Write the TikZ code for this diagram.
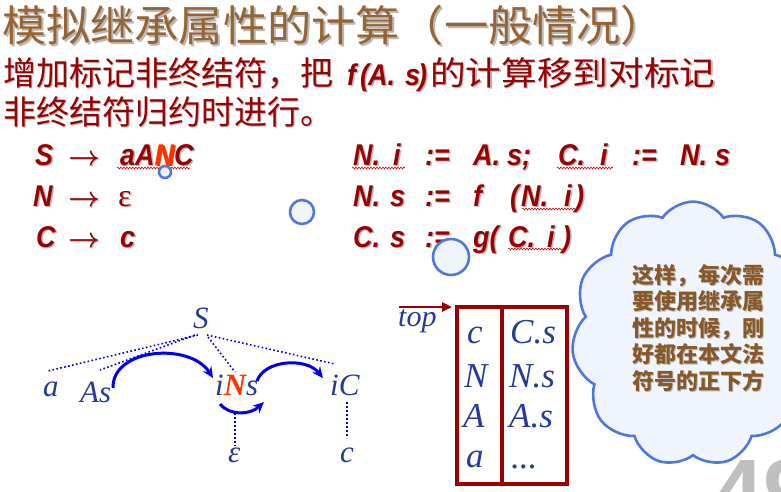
\documentclass[tikz,border=0pt]{standalone}
\usepackage{fontspec}
\usepackage{graphicx}
\setmainfont{Liberation Serif}
\newfontfamily\cjk{Noto Sans CJK SC}
\newfontfamily\cjkt{Noto Sans CJK SC}[FakeStretch=1.04]
\newfontfamily\cjkw{Noto Sans CJK SC}[FakeStretch=1.08]
\newfontfamily\pf{Liberation Sans}[FakeStretch=0.9]
\newfontfamily\sansf{Liberation Sans}
\usetikzlibrary{shapes.symbols,arrows.meta,decorations.pathmorphing}
\definecolor{titlebrown}{RGB}{150,100,50}
\definecolor{dred}{RGB}{153,0,0}
\definecolor{ored}{RGB}{255,51,0}
\definecolor{tblue}{RGB}{35,60,150}
\definecolor{ablue}{RGB}{0,0,235}
\definecolor{cloudb}{RGB}{80,120,220}
\definecolor{cloudf}{RGB}{240,244,252}
\definecolor{cbrown}{RGB}{135,88,40}
\definecolor{shadowc}{RGB}{185,185,185}
\definecolor{pgray}{RGB}{191,191,191}
\newcommand\shd[2]{\makebox[0pt][l]{\hspace{#1}\raisebox{-#1}{\color{shadowc}#2}}#2}
\newcommand\tk[2]{\makebox[#1][l]{#2}}
\newcommand\parr{\upshape\mdseries\resizebox{32pt}{!}{\boldmath$\rightarrow$}}
\tikzset{
  txt/.style={inner sep=0pt, anchor=base west},
  prod/.style={txt, text=dred, font=\pf\bfseries\itshape\fontsize{30}{30}\selectfont},
  tree/.style={txt, text=tblue, font=\itshape\fontsize{31}{31}\selectfont},
  stk/.style={txt, text=tblue, font=\itshape\fontsize{35}{35}\selectfont},
  dots/.style={ablue, line width=1.6pt, dash pattern=on 1.6pt off 2.4pt},
  flow/.style={ablue, line width=3pt, -{Stealth[length=11pt,width=10pt]}},
  wavy/.style={red!85!black, line width=0.6pt, decorate, decoration={snake, amplitude=0.9pt, segment length=3pt}},
  bubble/.style={circle, inner sep=0pt, draw=cloudb, fill=cloudf, line width=2.6pt},
}
\begin{document}
\begin{tikzpicture}[x=1pt,y=-1pt]
\clip (0,0) rectangle (781,491);
\fill[white] (0,0) rectangle (781,491);
% title
\node[txt, text=titlebrown, font=\cjkt\fontsize{42.5}{42.5}\selectfont] (title) at (2,41)
  {\shd{2pt}{模拟继承属性的计算（一般情况）}};
% description lines
\node[txt, text=dred, font=\cjk\fontsize{33}{33}\selectfont] (l2a) at (3,85)
  {\shd{1.5pt}{增加标记非终结符，把}};
\node[txt, text=dred, font=\pf\bfseries\itshape\fontsize{30}{30}\selectfont] (l2b) at (347,85)
  {\shd{1.5pt}{\tk{13pt}{f}\tk{8pt}{(}\tk{37pt}{A.}\tk{13pt}{s})}};
\node[txt, text=dred, font=\cjkw\fontsize{33}{33}\selectfont] (l2c) at (430,85)
  {\shd{1.5pt}{的计算移到对标记}};
\node[txt, text=dred, font=\cjk\fontsize{33}{33}\selectfont] (l3) at (3,124)
  {\shd{1.5pt}{非终结符归约时进行。}};
% productions
\node[prod] (p1l) at (35,165) {\shd{1.5pt}{\tk{33pt}{S}\tk{52pt}{\parr}aA{\color{ored}N}C}};
\node[prod] (p2l) at (33,206) {\shd{1.5pt}{\tk{35pt}{N}\tk{50pt}{\parr}{\mdseries\upshape\rmfamily\fontsize{32}{32}\selectfont ε}}};
\node[prod] (p3l) at (36,247) {\shd{1.5pt}{\tk{32pt}{C}\tk{52pt}{\parr}c}};
\node[prod] (p1r) at (353,165) {\shd{1.5pt}{\tk{40pt}{N.}\tk{32pt}{i}\tk{48pt}{:=}\tk{34pt}{A.}\tk{51pt}{s;}\tk{42pt}{C.}\tk{32pt}{i}\tk{48pt}{:=}\tk{35pt}{N.}s}};
\node[prod] (p2r) at (353,206) {\shd{1.5pt}{\tk{37pt}{N.}\tk{35pt}{s}\tk{48pt}{:=}\tk{37pt}{f}\tk{11pt}{(}\tk{43pt}{N.}\tk{11pt}{i})}};
\node[prod] (p3r) at (353,247) {\shd{1.5pt}{\tk{37pt}{C.}\tk{35pt}{s}\tk{48pt}{:=}\tk{35pt}{g(}\tk{39pt}{C.}\tk{15pt}{i})}};
% spell-check underlines
\coordinate (w1a) at (117,168); \coordinate (w1b) at (190,168);
\coordinate (w2a) at (352,168); \coordinate (w2b) at (405,168);
\coordinate (w3a) at (557,168); \coordinate (w3b) at (613,168);
\coordinate (w4a) at (522,209); \coordinate (w4b) at (578,209);
\coordinate (w5a) at (508,249); \coordinate (w5b) at (563,249);
\draw[wavy] (w1a) -- (w1b);
\draw[wavy] (w2a) -- (w2b);
\draw[wavy] (w3a) -- (w3b);
\draw[wavy] (w4a) -- (w4b);
\draw[wavy] (w5a) -- (w5b);
% parse tree
\node[tree] (S) at (193,328) {S};
\node[tree] (a) at (43,396) {a};
\node[tree] (As) at (80,402) {As};
\node[tree] (iNs) at (215,395) {i{\bfseries\color{ored}N}s};
\node[tree] (iC) at (330,395) {iC};
\node[tree] (eps) at (228,462) {ε};
\node[tree] (c) at (340,462) {c};
\coordinate (s1) at (198,335); \coordinate (s2) at (195,335);
\coordinate (s3) at (208,337); \coordinate (s4) at (207,335);
\coordinate (ta) at (48,371); \coordinate (tA) at (100,370);
\coordinate (tN) at (235,372); \coordinate (tC) at (335,364);
\coordinate (nb) at (235,413); \coordinate (et) at (235,446);
\coordinate (cb) at (347,402); \coordinate (ct) at (347,438);
\draw[dots] (s1) -- (ta);
\draw[dots] (s2) -- (tA);
\draw[dots] (s3) -- (tN);
\draw[dots] (s4) -- (tC);
\draw[dots] (nb) -- (et);
\draw[dots] (cb) -- (ct);
\coordinate (f1a) at (113,388); \coordinate (f1b) at (213,378);
\coordinate (f2a) at (257,381); \coordinate (f2b) at (323,378);
\coordinate (f3a) at (220,404); \coordinate (f3b) at (264,402);
\draw[flow] (f1a) .. controls (112,348) and (190,342) .. (f1b);
\draw[flow] (f2a) .. controls (264,360) and (306,357) .. (f2b);
\draw[flow] (f3a) .. controls (230,416) and (250,415) .. (f3b);
% stack
\node[txt, text=tblue, font=\itshape\fontsize{30}{30}\selectfont] (top) at (398,326) {top};
\coordinate (ar1) at (399,307); \coordinate (ar2) at (452,307);
\draw[dred, line width=2.8pt, -{Triangle[length=10pt,width=9pt]}] (ar1) -- (ar2);
\draw[dred, line width=3.2pt] (457,307) rectangle (567,484);
\draw[dred, line width=3.2pt] (502,307) -- (502,484);
\node[stk] (k1) at (467,343) {c};
\node[stk] (k2) at (464,387) {N};
\node[stk] (k3) at (463,427) {A};
\node[stk] (k4) at (466,467) {a};
\node[stk] (v1) at (510,343) {C.s};
\node[stk] (v2) at (509,387) {N.s};
\node[stk] (v3) at (509,427) {A.s};
\node[stk] (v4) at (511,468) {...};
% thought bubbles
\node[bubble, minimum size=12pt] (b1) at (165,172) {};
\node[bubble, minimum size=24pt] (b2) at (302,212) {};
\node[bubble, minimum size=36pt] (b3) at (451,257) {};
% cloud
\node[cloud, cloud puffs=11, cloud puff arc=110, aspect=0.92, minimum width=227pt, minimum height=243pt,
      draw=cloudb, fill=cloudf, line width=2.6pt, inner sep=0pt,
      xscale=1.07, yscale=1.09, transform shape] (cloud) at (693,334) {};
\node[anchor=north west, inner sep=0pt, align=left, text=cbrown,
      font=\cjk\bfseries\fontsize{22}{26.5}\selectfont] (ctext) at (632,264)
  {\shd{1pt}{这样，每次需}\\\shd{1pt}{要使用继承属}\\\shd{1pt}{性的时候，刚}\\\shd{1pt}{好都在本文法}\\\shd{1pt}{符号的正下方}};
% page number
\node[txt, text=pgray, font=\sansf\bfseries\fontsize{90}{90}\selectfont] (pg) at (713,522) {49};
\end{tikzpicture}
\end{document}
